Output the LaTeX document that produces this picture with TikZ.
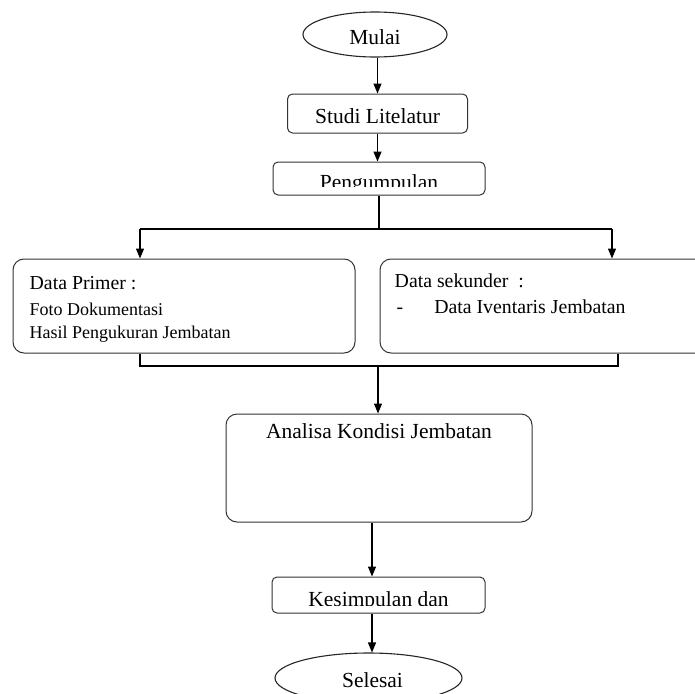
\documentclass[tikz,border=0pt]{standalone}
\usepackage{fontspec}
\setmainfont{Liberation Serif}
\usetikzlibrary{shapes.geometric,arrows.meta}

\begin{document}
\begin{tikzpicture}[x=1pt, y=-1pt,
            endnode/.style={ellipse, draw=black!85, line width=1.1pt, inner sep=0pt, font=\fontsize{21.5}{24}\selectfont},
            stepnode/.style={rectangle, rounded corners=5pt, draw=black!80, line width=1pt, inner sep=0pt, font=\fontsize{21.5}{24}\selectfont},
            datanode/.style={rectangle, rounded corners=11pt, draw=black!80, line width=1pt, inner sep=0pt, font=\fontsize{21.5}{24}\selectfont},
            bigtext/.style={inner sep=0pt, anchor=base, font=\fontsize{21.5}{24}\selectfont},
            midtext/.style={inner sep=0pt, anchor=base west, font=\fontsize{19.8}{22}\selectfont},
            smalltext/.style={inner sep=0pt, anchor=base west, font=\fontsize{18}{20}\selectfont},
            arr/.style={line width=1.3pt, -{Triangle[width=8pt,length=10pt]}},
            bar/.style={line width=1.5pt},
        ]
            \useasboundingbox (0,0) rectangle (695,693);

            %Nodes
            \node[endnode, minimum width=144pt, minimum height=45pt, text height=21pt, text depth=0pt](mulai) at (375,34.5) {Mulai};
            \node[stepnode, minimum width=180pt, minimum height=39pt, text height=19pt, text depth=0pt](studi) at (377.5,113.5) {Studi Litelatur};
            \node[stepnode, minimum width=212pt, minimum height=33pt](kumpul) at (379,178.5) {};
            \begin{scope}
                \clip (kumpul.north west) rectangle ([yshift=9pt]kumpul.south east);
                \node[bigtext](kumpultext) at (379,189) {Pengumpulan};
            \end{scope}

            \node[datanode, minimum width=342pt, minimum height=94pt](primer) at (184,306) {};
            \node[midtext](primerjudul) at ([xshift=17pt, yshift=-31pt]primer.north west) {Data Primer :};
            \node[smalltext](primerfoto) at ([yshift=-26pt]primerjudul.base west) {Foto Dokumentasi};
            \node[smalltext](primerukur) at ([yshift=-22.5pt]primerfoto.base west) {Hasil Pengukuran Jembatan};

            \node[datanode, minimum width=330pt, minimum height=94pt](sekunder) at (545,306) {};
            \node[midtext](sekunderjudul) at ([xshift=15pt, yshift=-29pt]sekunder.north west) {Data sekunder~~:};
            \node[midtext](sekunderisi) at ([xshift=2pt, yshift=-26pt]sekunderjudul.base west) {-\hspace{31pt}Data Iventaris Jembatan};

            \node[datanode, minimum width=306pt, minimum height=108pt, text height=15pt, text depth=75pt](analisa) at (379,468) {Analisa Kondisi Jembatan};

            \node[stepnode, minimum width=213pt, minimum height=36pt](simpul) at (378.5,595) {};
            \begin{scope}
                \clip (simpul.north west) rectangle ([yshift=8pt]simpul.south east);
                \node[bigtext](simpultext) at (378.5,606) {Kesimpulan dan};
            \end{scope}

            \node[endnode, minimum width=187pt, minimum height=50pt, text height=18pt, text depth=0pt](selesai) at (368.5,678) {\hspace*{8pt}Selesai};

            \coordinate (pisah) at (379,229);
            \coordinate (pisahkiri) at (140,229);
            \coordinate (pisahkanan) at (612,229);
            \coordinate (gabung) at (378,366);
            \coordinate (gabungkiri) at (140,366);
            \coordinate (gabungkanan) at (618,366);

            %Lines
            \draw[arr](mulai.south -| studi.north) -- (studi.north);
            \draw[arr](studi.south) -- (studi.south |- kumpul.north);
            \draw[bar](kumpul.south) -- (pisah);
            \draw[bar](pisahkiri) -- (pisahkanan);
            \draw[arr](pisahkiri) -- (pisahkiri |- primer.north);
            \draw[arr](pisahkanan) -- (pisahkanan |- sekunder.north);
            \draw[bar](gabungkiri |- primer.south) -- (gabungkiri) -- (gabungkanan) -- (gabungkanan |- sekunder.south);
            \draw[arr](gabung) -- (gabung |- analisa.north);
            \draw[arr]([xshift=-7pt]analisa.south) -- ([xshift=-6.5pt]simpul.north);
            \draw[arr]([xshift=-6.5pt]simpul.south) -- ([xshift=3.5pt]selesai.north);
        \end{tikzpicture}
\end{document}
